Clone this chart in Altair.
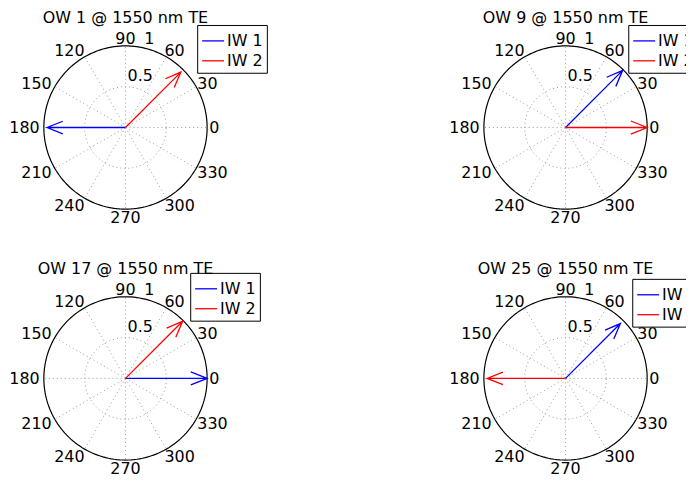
import altair as alt
import numpy as np
import pandas as pd

# ---------------- data ----------------
titles = ["OW 1 @ 1550 nm TE", "OW 9 @ 1550 nm TE",
          "OW 17 @ 1550 nm TE", "OW 25 @ 1550 nm TE"]
series_names = ["IW 1", "IW 2"]
series_colors = ["#0000ff", "#ff0000"]
iw1_angle = [180, 45, 0, 45]
iw1_mag = [0.96, 0.99, 1.00, 0.95]
iw2_angle = [45, 0, 45, 180]
iw2_mag = [0.96, 1.00, 0.99, 0.96]
angle_ticks = [0, 30, 60, 90, 120, 150, 180, 210, 240, 270, 300, 330]
radius_ticks = [0.5, 1.0]

# ---------------- style ----------------
FONT = "DejaVu Sans"
FS = 16
R_PX = 82
SIZE = 2 * R_PX
GRID = "#9a9a9a"
ARROW_U = [0.0, 1.0, 0.8, 1.0, 0.8]      # MATLAB compass arrow shape
ARROW_V = [0.0, 0.0, 0.08, 0.0, -0.08]
legend_pos = [(154, -21), (145, -21), (147, -24), (149, -18)]


def sc():
    return alt.Scale(domain=[-1, 1], nice=False, zero=False)


def X(f):
    return alt.X(f, type="quantitative", scale=sc(), axis=None)


def Y(f):
    return alt.Y(f, type="quantitative", scale=sc(), axis=None)


rmax = max(radius_ticks)
ring_df = pd.DataFrame([(r, t) for r in radius_ticks for t in np.arange(0, 361, 2)],
                       columns=["r", "t"])
spoke_df = pd.DataFrame({"a": angle_ticks})
rad_df = pd.DataFrame({"v": radius_ticks})


def panel(i):
    ring_base = alt.Chart(ring_df).transform_calculate(
        rx="datum.r*cos(datum.t*PI/180)", ry="datum.r*sin(datum.t*PI/180)")
    inner = ring_base.transform_filter(f"datum.r < {rmax}").mark_line(
        color=GRID, strokeDash=[1, 3], strokeWidth=1).encode(
        x=X("rx"), y=Y("ry"), detail="r:N", order="t:Q")
    outer = ring_base.transform_filter(f"datum.r >= {rmax}").mark_line(
        color="black", strokeWidth=1.2).encode(
        x=X("rx"), y=Y("ry"), order="t:Q")

    spokes = alt.Chart(spoke_df).transform_calculate(
        x0="0", y0="0",
        x1=f"{rmax}*cos(datum.a*PI/180)", y1=f"{rmax}*sin(datum.a*PI/180)").mark_rule(
        color=GRID, strokeDash=[1, 3], strokeWidth=1).encode(
        x=X("x0"), y=Y("y0"), x2="x1:Q", y2="y1:Q")

    lab = alt.Chart(spoke_df).transform_calculate(
        lx=f"1.1*{rmax}*cos(datum.a*PI/180)", ly=f"1.1*{rmax}*sin(datum.a*PI/180)",
        c="cos(datum.a*PI/180)")
    tkw = dict(baseline="middle", dy=1, font=FONT, fontSize=FS, color="black")
    lab_r = lab.transform_filter("datum.c > 0.1").mark_text(align="left", dx=-6, **tkw).encode(
        x=X("lx"), y=Y("ly"), text=alt.Text("a:Q", format="d"))
    lab_l = lab.transform_filter("datum.c < -0.1").mark_text(align="right", dx=4, **tkw).encode(
        x=X("lx"), y=Y("ly"), text=alt.Text("a:Q", format="d"))
    lab_c = lab.transform_filter("abs(datum.c) <= 0.1").mark_text(align="center", **tkw).encode(
        x=X("lx"), y=Y("ly"), text=alt.Text("a:Q", format="d"))

    rad = alt.Chart(rad_df).transform_calculate(
        tx="0.41*datum.v - 0.18", ty="0.9*datum.v + 0.117").mark_text(
        align="left", baseline="alphabetic", font=FONT, fontSize=FS, color="black").encode(
        x=X("tx"), y=Y("ty"), text=alt.Text("v:Q", format="~g"))

    rows = []
    for s, angs, mags in zip(series_names, [iw1_angle, iw2_angle], [iw1_mag, iw2_mag]):
        for k, (u, v) in enumerate(zip(ARROW_U, ARROW_V)):
            rows.append({"series": s, "ang": angs[i], "mag": mags[i], "k": k, "u": u, "v": v})
    arrows = alt.Chart(pd.DataFrame(rows)).transform_calculate(
        ax="datum.mag*(datum.u*cos(datum.ang*PI/180) - datum.v*sin(datum.ang*PI/180))",
        ay="datum.mag*(datum.u*sin(datum.ang*PI/180) + datum.v*cos(datum.ang*PI/180))").mark_line(
        strokeWidth=1.3).encode(
        x=X("ax"), y=Y("ay"),
        color=alt.Color("series:N",
                        scale=alt.Scale(domain=series_names, range=series_colors),
                        legend=alt.Legend(orient="none", legendX=legend_pos[i][0],
                                          legendY=legend_pos[i][1], title=None,
                                          symbolType="stroke", symbolSize=484,
                                          symbolStrokeWidth=1.3, labelFont=FONT,
                                          labelFontSize=FS, labelColor="black",
                                          strokeColor="black", fillColor="white",
                                          padding=4, rowPadding=0, labelOffset=2,
                                          symbolOffset=0, cornerRadius=0)),
        order=alt.Order("k:Q"))

    return alt.layer(inner, outer, spokes, arrows, lab_r, lab_l, lab_c, rad).properties(
        width=SIZE, height=SIZE,
        title=alt.TitleParams(text=titles[i], font=FONT, fontSize=FS, fontWeight="normal",
                              color="black", anchor="middle", frame="group",
                              offset=legend_pos[i][1] + 6, baseline="alphabetic"))


p = [panel(i) for i in range(4)]
chart = alt.concat(*p, columns=2, spacing={"row": 88, "column": 278}, bounds="flush").resolve_scale(
    color="independent").resolve_legend(color="independent").properties(
    padding={"left": 1, "top": 1, "right": -17, "bottom": 3},
    background="white").configure_view(stroke=None)

chart.save("out.html", embed_options={"renderer": "svg", "actions": False})
